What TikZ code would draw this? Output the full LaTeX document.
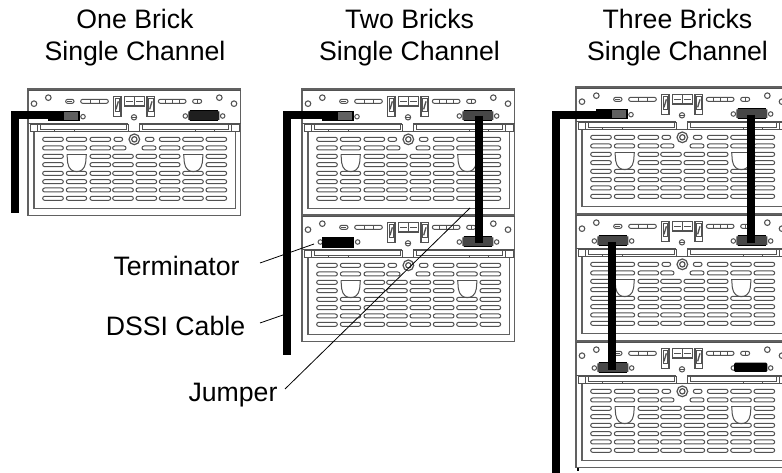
\documentclass[tikz,border=0pt]{standalone}
\usepackage{fontspec}
\setmainfont{Liberation Sans}
\tikzset{
  ln/.style={draw=black!68,line width=0.75pt},
  frm/.style={draw=black!62,line width=1.1pt},
  slotbox/.style={ln,rounded corners=1.5pt},
  cable/.style={draw=black,line width=6pt,line join=miter},
  leader/.style={draw=black,line width=0.6pt},
  lab/.style={font=\fontsize{20pt}{24pt}\selectfont,inner sep=0pt,anchor=center},
  title/.style={font=\fontsize{20pt}{24pt}\selectfont,align=center,inner sep=0pt,anchor=center},
}
\newcommand{\slotat}[3]{\draw[slotbox] (#2,#1-6) rectangle (#3,#1+6);}
\newcommand{\swbox}[1]{%
  \draw[ln,line width=0.9pt] (#1,50) rectangle (#1+23,110);
  \draw[ln] (#1+5,57) rectangle (#1+18,95);
  \draw[ln,line width=1pt] (#1+8,88) -- (#1+15,64);
}
\newcommand{\shieldat}[1]{%
  \draw[ln] (#1,223) -- (#1+60,223);
  \draw[ln] (#1+1,223) -- (#1+3,248) .. controls (#1+6,268) and (#1+18,275) .. (#1+30,275)
     .. controls (#1+42,275) and (#1+54,268) .. (#1+57,248) -- (#1+59,223);
}
\newcommand{\fullrow}[1]{%
  \slotat{#1}{128}{190}\slotat{#1}{199}{260}\slotat{#1}{270}{332}\slotat{#1}{338}{400}%
  \slotat{#1}{408}{470}\slotat{#1}{478}{540}\slotat{#1}{548}{610}\slotat{#1}{618}{680}}
\newcommand{\screws}[1]{%
  \draw[ln] (#1-9,108) circle[radius=1.7pt];
  \draw[ln] (#1+103,108) circle[radius=1.7pt];
}
% brick: #1 x, #2 y, #3 name
\newcommand{\brick}[3]{%
\begin{scope}[shift={(#1,#2)},x=0.25pt,y=-0.25pt,shift={(-84,-27)}]
  \draw[frm,fill=white] (84,27) rectangle (722,407);
  \draw[ln] (84,33) -- (722,33);
  \draw[ln] (84,130) -- (385,130);
  \draw[ln] (418,130) -- (722,130);
  \foreach \cx/\cy in {102/71,145/53,658/53,702/71} {\draw[ln,line width=0.8pt] (\cx,\cy) circle[radius=2.1pt];}
  \draw[slotbox] (197,58) rectangle (222,70); \draw[ln] (202,64) -- (217,64);
  \draw[slotbox] (242,58) rectangle (325,70);
  \draw[ln] (270,58) -- (270,70) (298,58) -- (298,70);
  \swbox{340}\swbox{441}
  \draw[ln,line width=0.9pt] (373,50) rectangle (403,78) (404,50) rectangle (434,78);
  \draw[ln] (378,64) -- (398,64) (409,64) -- (429,64);
  \draw[slotbox] (475,58) rectangle (558,70);
  \draw[ln] (496,58) -- (496,70) (517,58) -- (517,70) (538,58) -- (538,70);
  \draw[slotbox] (578,58) rectangle (605,70); \draw[ln] (591,58) -- (591,70);
  \draw[ln] (402,112) circle[radius=2pt]; \draw[ln] (396,112) -- (408,112);
  % handles
  \draw[ln] (90,133) rectangle (112,155);
  \draw[ln] (695,133) rectangle (718,155);
  \draw[ln] (112,155) -- (385,155) -- (385,133) -- (112,133);
  \draw[ln] (122,133) -- (122,148) -- (378,148) -- (378,133);
  \draw[ln] (163,148) -- (163,155) (222,148) -- (222,155);
  \draw[ln] (418,133) -- (418,155) -- (695,155) (418,133) -- (695,133);
  \draw[ln] (428,133) -- (428,148) -- (685,148) -- (685,133);
  \draw[ln] (585,148) -- (585,155) (644,148) -- (644,155);
  \draw[ln] (385,155) -- (418,155);
  % grille frame
  \draw[frm] (102,155) -- (102,385) -- (706,385) -- (706,155);
  % slots
  \slotat{178}{128}{190}\slotat{178}{199}{260}\slotat{178}{270}{332}\slotat{178}{342}{368}%
  \slotat{178}{436}{462}\slotat{178}{478}{540}\slotat{178}{548}{610}\slotat{178}{618}{680}%
  \slotat{204}{128}{190}\slotat{204}{199}{260}\slotat{204}{270}{332}\slotat{204}{338}{378}%
  \slotat{204}{426}{468}\slotat{204}{478}{540}\slotat{204}{548}{610}\slotat{204}{618}{680}%
  \foreach \ry in {229,254} {%
    \slotat{\ry}{128}{190}\slotat{\ry}{270}{332}\slotat{\ry}{338}{400}%
    \slotat{\ry}{408}{470}\slotat{\ry}{478}{540}\slotat{\ry}{618}{680}}
  \foreach \ry in {280,305,330,355} {\fullrow{\ry}}
  \shieldat{200}\shieldat{550}
  \draw[ln,line width=0.9pt] (403,178) circle[radius=4pt];
  \draw[ln,line width=0.9pt] (403,178) circle[radius=2pt];
\end{scope}}
% connectors: #1,#2 brick, #3 left x, #4 fill
\newcommand{\conn}[4]{%
\begin{scope}[shift={(#1,#2)},x=0.25pt,y=-0.25pt,shift={(-84,-27)}]
  \screws{#3}
  \fill[#4] (#3,94) -- (#3+4,94) -- (#3+4,92) -- (#3+89,92) -- (#3+89,94) -- (#3+93,94)
     -- (#3+93,120) -- (#3+89,120) -- (#3+89,122) -- (#3+4,122) -- (#3+4,120) -- (#3,120) -- cycle;
  \draw[black,line width=0.9pt] (#3+4,92) -- (#3+89,92);
  \draw[black,line width=0.9pt] (#3+4,122) -- (#3+89,122);
\end{scope}}
\newcommand{\plug}[2]{%
\begin{scope}[shift={(#1,#2)},x=0.25pt,y=-0.25pt,shift={(-84,-27)}]
  \draw[ln] (249,110) circle[radius=1.7pt];
  \fill[black] (144,93) rectangle (240,123);
  \fill[black!62] (192,97) rectangle (234,119);
\end{scope}}
\begin{document}
\begin{tikzpicture}[x=0.75pt,y=-0.75pt]
\clip (0,0) rectangle (782,473);
\fill[white] (0,0) rectangle (782,473);
\node[title] (t1) at (135,38) {One Brick\\Single Channel};
\node[title] (t2) at (409.5,38) {Two Bricks\\Single Channel};
\node[title] (t3) at (677.5,38) {Three Bricks\\Single Channel};

\brick{28}{89}{a}
\brick{302}{89}{b}
\brick{302}{215}{c}
\brick{576}{87}{d}
\brick{576}{214}{e}
\brick{576}{341}{f}

% column 1
\plug{28}{89}
\conn{28}{89}{565}{black!88}
\coordinate (a0) at (15,213);
\coordinate (a1) at (15,115.5);
\coordinate (a2) at (60,115.5);
\draw[cable] (a0) -- (a1) -- (a2);

% column 2
\plug{302}{89}
\conn{302}{89}{565}{black!72}
\conn{302}{215}{565}{black!72}
\begin{scope}[shift={(302,215)},x=0.25pt,y=-0.25pt,shift={(-84,-27)}]
  \screws{148}
  \fill[black] (143,92) rectangle (239,125);
\end{scope}
\coordinate (b0) at (287,355);
\coordinate (b1) at (287,115.5);
\coordinate (b2) at (334,115.5);
\draw[cable] (b0) -- (b1) -- (b2);
\coordinate (j1) at (479,116);
\coordinate (j2) at (479,243);
\draw[cable] (j1) -- (j2);

% column 3
\plug{576}{87}
\conn{576}{87}{565}{black!72}
\conn{576}{214}{565}{black!72}
\conn{576}{214}{148}{black!72}
\conn{576}{341}{148}{black!72}
\begin{scope}[shift={(576,341)},x=0.25pt,y=-0.25pt,shift={(-84,-27)}]
  \screws{565}
  \fill[black,rounded corners=1pt] (558,92) rectangle (658,120);
\end{scope}
\coordinate (d0) at (556,473);
\coordinate (d1) at (556,115);
\coordinate (d2) at (604,115);
\draw[cable] (d0) -- (d1) -- (d2);
\coordinate (k1) at (751,115);
\coordinate (k2) at (751,243);
\draw[cable] (k1) -- (k2);
\coordinate (m1) at (612,242);
\coordinate (m2) at (612,370);
\draw[cable] (m1) -- (m2);
\fill[black] (576.5,468.5) rectangle (579,471);

% labels
\node[lab] (term) at (176.5,265.5) {Terminator};
\node[lab] (dssi) at (175.5,326) {DSSI Cable};
\node[lab] (jump) at (233,395) {Jumper};
\coordinate (termS) at (260,263);
\coordinate (dssiS) at (260,323);
\coordinate (jumpS) at (285,389);
\coordinate (termEnd) at (314,244);
\coordinate (dssiEnd) at (283,315);
\coordinate (jumpEnd) at (470,208);
\draw[leader] (termS) -- (termEnd);
\draw[leader] (dssiS) -- (dssiEnd);
\draw[leader] (jumpS) -- (jumpEnd);
\end{tikzpicture}
\end{document}
